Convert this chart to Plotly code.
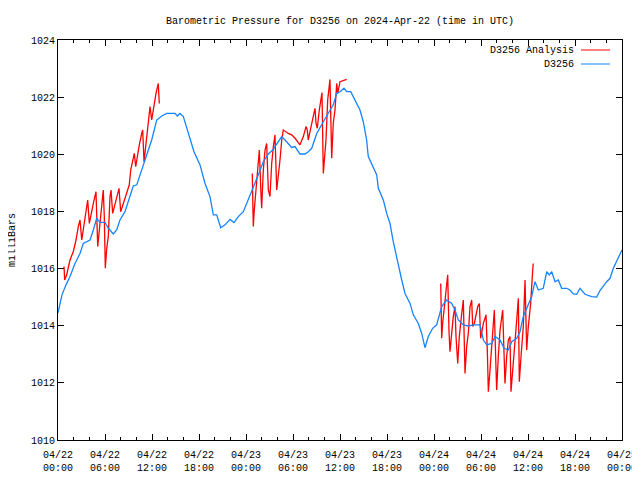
import pandas as pd
import plotly.graph_objects as go

# ---- data (hours since 2024-04-22 00:00 UTC, pressure in mb) ----
blue_hours = [0.00, 0.51, 1.02, 1.53, 2.17, 2.81, 3.23, 3.66, 4.09, 4.51, 4.94, 5.36, 6.00, 6.42,
              7.06, 7.49, 7.91, 8.55, 9.19, 9.61, 10.05, 10.69, 11.32, 11.96, 12.60, 13.24, 13.88,
              14.94, 15.23, 15.57, 16.00, 16.43, 16.85, 17.36, 18.13, 18.77, 19.40, 19.83, 20.26,
              20.77, 21.32, 21.96, 22.47, 23.02, 23.66, 24.29, 24.93, 25.57, 26.21, 26.85, 27.41,
              27.92, 28.56, 28.98, 29.83, 30.26, 30.89, 31.53, 31.95, 32.39, 33.03, 33.87, 34.51,
              35.14, 35.58, 36.00, 36.51, 36.86, 37.37, 37.91, 38.55, 38.97, 39.40, 39.61, 40.25,
              40.69, 40.89, 41.53, 41.96, 42.38, 42.80, 43.24, 43.44, 43.88, 44.30, 44.94, 45.36,
              46.00, 46.43, 46.85, 47.27, 47.83, 48.34, 48.98, 49.62, 50.26, 50.68, 51.10, 51.74,
              52.38, 53.02, 53.87, 54.30, 54.73, 55.37, 55.79, 56.43, 56.94, 57.49, 57.92, 58.56,
              58.98, 59.40, 60.04, 60.47, 60.89, 61.32, 61.95, 62.39, 62.72, 63.03, 63.45, 63.87,
              64.30, 64.94, 65.36, 65.78, 66.22, 66.64, 67.28, 68.13, 68.77, 69.19, 70.05, 70.47,
              70.89, 71.74, 72.00]
blue_values = [1014.45, 1015.08, 1015.43, 1015.72, 1016.18, 1016.53, 1016.88, 1016.94, 1017.00,
               1017.35, 1017.76, 1017.62, 1017.62, 1017.41, 1017.21, 1017.35, 1017.70, 1017.99,
               1018.52, 1018.89, 1018.93, 1019.45, 1019.92, 1020.50, 1021.20, 1021.34, 1021.43,
               1021.43, 1021.34, 1021.43, 1021.32, 1020.91, 1020.50, 1020.09, 1019.63, 1018.98,
               1018.52, 1017.88, 1017.88, 1017.43, 1017.53, 1017.72, 1017.61, 1017.82, 1017.99,
               1018.40, 1018.87, 1019.28, 1019.74, 1020.01, 1020.15, 1020.38, 1020.62, 1020.50,
               1020.24, 1020.27, 1020.01, 1020.01, 1020.09, 1020.21, 1020.73, 1021.14, 1021.43,
               1021.73, 1022.13, 1022.19, 1022.31, 1022.19, 1022.19, 1021.92, 1021.55, 1021.14,
               1020.50, 1019.92, 1019.57, 1019.28, 1018.81, 1018.40, 1017.93, 1017.58, 1016.94,
               1016.36, 1016.07, 1015.60, 1015.13, 1014.78, 1014.38, 1014.08, 1013.73, 1013.23,
               1013.62, 1013.91, 1014.03, 1014.67, 1014.90, 1014.78, 1014.55, 1014.20, 1014.03,
               1013.99, 1014.03, 1014.03, 1013.50, 1013.33, 1013.38, 1013.62, 1013.50, 1013.21,
               1013.15, 1013.44, 1013.56, 1013.79, 1014.32, 1014.73, 1015.02, 1015.54, 1015.25,
               1015.31, 1015.89, 1015.78, 1015.89, 1015.54, 1015.60, 1015.31, 1015.31, 1015.25,
               1015.11, 1015.10, 1015.31, 1015.10, 1015.02, 1015.00, 1015.23, 1015.54, 1015.66,
               1016.01, 1016.53, 1016.65]

red1_hours = [0.77, 0.85, 1.11, 1.53, 1.95, 2.30, 2.59, 2.81, 3.03, 3.23, 3.54, 3.79, 4.00, 4.30,
              4.51, 4.85, 5.07, 5.36, 5.66, 5.78, 5.91, 6.04, 6.22, 6.42, 6.64, 6.77, 6.98, 7.28,
              7.49, 7.79, 8.00, 8.34, 8.77, 9.10, 9.28, 9.54, 9.74, 9.92, 10.12, 10.38, 10.69,
              10.81, 10.98, 11.32, 11.53, 11.75, 11.96, 12.17, 12.51, 12.80, 12.93]
red1_values = [1016.07, 1015.60, 1015.78, 1016.30, 1016.59, 1017.00, 1017.47, 1017.70, 1017.00,
               1017.35, 1017.88, 1018.40, 1017.58, 1017.93, 1018.28, 1018.69, 1016.77, 1017.58,
               1018.63, 1018.75, 1017.82, 1016.01, 1016.71, 1017.12, 1018.52, 1018.75, 1017.93,
               1018.28, 1018.52, 1018.81, 1017.99, 1018.28, 1018.58, 1018.93, 1019.45, 1019.74,
               1020.03, 1019.57, 1019.92, 1020.33, 1020.73, 1020.85, 1019.74, 1020.50, 1020.97,
               1021.67, 1021.20, 1021.61, 1022.13, 1022.48, 1021.78]

red2_hours = [24.80, 24.93, 25.06, 25.28, 25.49, 25.70, 25.91, 26.00, 26.21, 26.43, 26.64, 26.85,
              27.06, 27.28, 27.49, 27.70, 27.92, 28.12, 28.34, 28.56, 28.76, 29.40, 29.83, 30.26,
              30.68, 30.89, 31.32, 31.66, 31.82, 31.95, 32.17, 32.39, 32.59, 32.81, 32.94, 33.10,
              33.36, 33.54, 33.70, 33.87, 34.00, 34.21, 34.43, 34.63, 34.72, 34.85, 34.94, 35.14,
              35.36, 35.58, 35.71, 36.00, 36.86]
red2_values = [1019.33, 1017.47, 1018.05, 1018.75, 1019.45, 1020.15, 1018.63, 1018.11, 1019.45,
               1020.15, 1020.38, 1018.75, 1018.52, 1019.68, 1020.27, 1020.68, 1018.75, 1019.22,
               1019.80, 1020.50, 1020.85, 1020.73, 1020.68, 1020.56, 1020.38, 1020.33, 1020.62,
               1020.97, 1020.85, 1020.50, 1020.79, 1021.08, 1021.43, 1021.61, 1021.08, 1020.91,
               1021.55, 1021.90, 1022.16, 1019.33, 1019.68, 1020.50, 1021.90, 1022.37, 1022.62,
               1020.97, 1019.86, 1021.08, 1021.55, 1022.48, 1022.13, 1022.54, 1022.62]

red3_hours = [48.86, 48.98, 49.10, 49.40, 49.62, 49.75, 49.91, 50.04, 50.26, 50.46, 50.68, 50.81,
              51.03, 51.23, 51.54, 51.74, 51.96, 52.17, 52.38, 52.60, 52.81, 52.94, 53.15, 53.36,
              53.58, 53.79, 53.96, 54.30, 54.64, 54.81, 54.94, 55.15, 55.37, 55.58, 55.70, 55.92,
              56.00, 56.21, 56.43, 56.77, 56.94, 57.06, 57.28, 57.49, 57.70, 57.83, 58.05, 58.25,
              58.56, 58.77, 58.89, 59.11, 59.40, 59.62, 59.83, 60.04, 60.34, 60.60, 60.67]
red3_values = [1015.48, 1013.56, 1014.08, 1014.90, 1015.60, 1015.78, 1013.85, 1013.09, 1013.73,
               1014.32, 1014.67, 1013.62, 1012.68, 1013.62, 1014.43, 1014.90, 1012.33, 1013.27,
               1013.73, 1014.67, 1014.90, 1013.97, 1014.08, 1014.38, 1014.67, 1014.78, 1013.56,
               1014.08, 1014.38, 1013.09, 1011.69, 1012.45, 1013.38, 1014.26, 1014.55, 1012.45,
               1011.75, 1012.92, 1013.85, 1014.55, 1012.57, 1011.98, 1012.92, 1013.50, 1013.62,
               1011.69, 1012.45, 1013.27, 1014.20, 1014.96, 1012.04, 1012.92, 1013.97, 1015.60,
               1013.15, 1013.97, 1014.78, 1015.95, 1016.18]

title_text = "Barometric Pressure for D3256 on 2024-Apr-22 (time in UTC)"
y_label = "milliBars"
series_names = ["D3256 Analysis", "D3256"]
series_colors = ["#ff0000", "#1484ff"]

base = pd.Timestamp("2024-04-22 00:00")


def to_time(hours):
    return [None if h is None else base + pd.Timedelta(hours=h) for h in hours]


red_hours = red1_hours + [None] + red2_hours + [None] + red3_hours
red_values = red1_values + [None] + red2_values + [None] + red3_values

FONT = "Liberation Mono, DejaVu Sans Mono, monospace"
# page body has an 8px margin: shift the figure so the plot box lands at 58..622 x 40..440
OFF = 8
W, H = 640, 480
L, T = 58 - OFF, 40 - OFF
R, B = W - (622 - OFF), H - (440 - OFF)
PW, PH = W - L - R, H - T - B


def px_x(x):  # screen pixel -> paper
    return (x - OFF - L) / PW


def px_y(y):
    return (H - B - (y - OFF)) / PH


fig = go.Figure()
fig.add_trace(go.Scatter(x=to_time(red_hours), y=red_values, mode="lines",
                         name=series_names[0], connectgaps=False,
                         line=dict(color=series_colors[0], width=1.3)))
fig.add_trace(go.Scatter(x=to_time(blue_hours), y=blue_values, mode="lines",
                         name=series_names[1],
                         line=dict(color=series_colors[1], width=1.3)))

fig.update_layout(
    width=W, height=H,
    margin=dict(l=L, r=R, t=T, b=B, autoexpand=False),
    paper_bgcolor="white", plot_bgcolor="white",
    showlegend=False,
    font=dict(family=FONT, size=10, color="black"),
    title=dict(text=title_text, x=px_x(340), xanchor="center", xref="paper",
               y=1 - (20 - OFF) / H, yanchor="middle",
               font=dict(family=FONT, size=10, color="black")),
)

fig.update_xaxes(
    type="date", automargin=False,
    range=[base, base + pd.Timedelta(hours=72)],
    tick0=base, dtick=6 * 3600 * 1000,
    tickformat="%m/%d<br>%H:%M",
    ticks="inside", ticklen=6, tickcolor="black",
    ticklabelstandoff=5, ticklabeloverflow="allow",
    showline=True, linecolor="black", linewidth=1, mirror="ticks",
    showgrid=False, zeroline=False,
    minor=dict(dtick=2 * 3600 * 1000, ticks="inside", ticklen=3, tickcolor="black", showgrid=False),
    tickfont=dict(family=FONT, size=10, color="black"),
)
fig.update_yaxes(
    automargin=False,
    range=[1010, 1024], dtick=2, tick0=1010,
    ticks="inside", ticklen=6, tickcolor="black",
    showline=True, linecolor="black", linewidth=1, mirror="ticks",
    showgrid=False, zeroline=False,
    tickfont=dict(family=FONT, size=10, color="black"),
)

fig.add_annotation(text=y_label, xref="paper", yref="paper", x=px_x(12), y=px_y(240),
                   xanchor="center", yanchor="middle", textangle=-90, showarrow=False,
                   font=dict(family=FONT, size=10, color="black"))

# gnuplot-style key: text right-aligned, line sample on its right
key_rows = [(series_names[0], series_colors[0], 50), (series_names[1], series_colors[1], 64)]
for name, color, ypix in key_rows:
    fig.add_annotation(text=name, xref="paper", yref="paper",
                       x=px_x(576), y=px_y(ypix),
                       xanchor="right", yanchor="middle", showarrow=False,
                       font=dict(family=FONT, size=10, color="black"))
    fig.add_shape(type="line", xref="paper", yref="paper",
                  x0=px_x(581), x1=px_x(610), y0=px_y(ypix), y1=px_y(ypix),
                  line=dict(color=color, width=1))

fig.write_html("out.html")
